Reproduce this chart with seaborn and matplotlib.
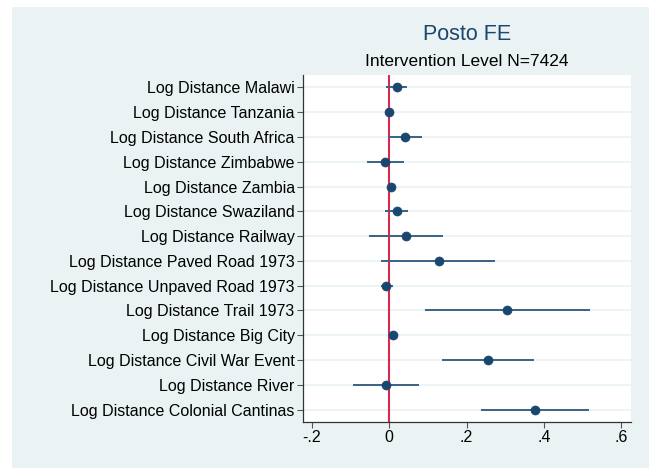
import numpy as np
import pandas as pd
import seaborn as sns
import matplotlib.pyplot as plt
from matplotlib.patches import Rectangle

# coefficient estimates and 95% CIs
labels = ["Log Distance Malawi", "Log Distance Tanzania", "Log Distance South Africa",
          "Log Distance Zimbabwe", "Log Distance Zambia", "Log Distance Swaziland",
          "Log Distance Railway", "Log Distance Paved Road 1973",
          "Log Distance Unpaved Road 1973", "Log Distance Trail 1973",
          "Log Distance Big City", "Log Distance Civil War Event",
          "Log Distance River", "Log Distance Colonial Cantinas"]
coef = [0.019, 0.000, 0.041, -0.010, 0.004, 0.019, 0.042, 0.128, -0.008, 0.305,
        0.009, 0.255, -0.009, 0.376]
ci_low = [-0.008, -0.003, -0.002, -0.057, -0.001, -0.010, -0.053, -0.021, -0.022, 0.093,
          0.001, 0.136, -0.093, 0.236]
ci_high = [0.047, 0.003, 0.085, 0.037, 0.008, 0.049, 0.138, 0.273, 0.009, 0.519,
           0.017, 0.375, 0.076, 0.516]
xticks = [-0.2, 0, 0.2, 0.4, 0.6]
xtick_labels = ["-.2", "0", ".2", ".4", ".6"]

df = pd.DataFrame({"var": labels, "coef": coef, "lo": ci_low, "hi": ci_high})
df["pos"] = np.arange(len(df))

navy = "#1a476f"
bg = "#eaf2f3"

sns.set_theme(style="white")
plt.rcParams["font.family"] = ["Liberation Sans", "DejaVu Sans"]

fig = plt.figure(figsize=(6.49, 4.68), dpi=100)
fig.patches.append(Rectangle((12 / 649, 0), 1, 1 - 7 / 468, transform=fig.transFigure,
                             facecolor=bg, edgecolor="none", zorder=-10))
ax = fig.add_axes([303 / 649, 46 / 468, 328 / 649, 347 / 468])
ax.set_zorder(5)
ax.set_facecolor("white")

# horizontal grid at each coefficient
for p in df["pos"]:
    ax.axhline(p, color=bg, lw=1.2, zorder=0)

ax.axvline(0, color="#d9294f", lw=1.5, zorder=1)
ax.hlines(df["pos"], df["lo"], df["hi"], color="#3b6387", lw=1.4, zorder=2)
sns.scatterplot(data=df, x="coef", y="pos", ax=ax, color=navy, s=42,
                edgecolor=navy, linewidth=0.5, zorder=3, legend=False)

ax.set_xlim(-0.223, 0.625)
ax.set_ylim(len(df) - 0.5, -0.5)
ax.set_yticks(df["pos"], df["var"], fontsize=11.5)
ax.set_xticks(xticks, xtick_labels, fontsize=11.5)
ax.set_xlabel("")
ax.set_ylabel("")
ax.tick_params(axis="both", which="both", length=4, width=0.8, color="#555555",
               left=True, bottom=True, pad=2, labelcolor="black")
for side in ["top", "right"]:
    ax.spines[side].set_visible(False)
for side in ["left", "bottom"]:
    ax.spines[side].set_color("#333333")
    ax.spines[side].set_linewidth(0.9)

x_mid = (303 + 631) / 2 / 649
fig.text(x_mid, 1 - 35 / 468, "Posto FE", ha="center", va="center", fontsize=15.5, color=navy)
fig.text(x_mid, 1 - 61 / 468, "Intervention Level N=7424", ha="center", va="center",
         fontsize=12.5, color="black")

fig.savefig("out.png", dpi=100, facecolor="white")
